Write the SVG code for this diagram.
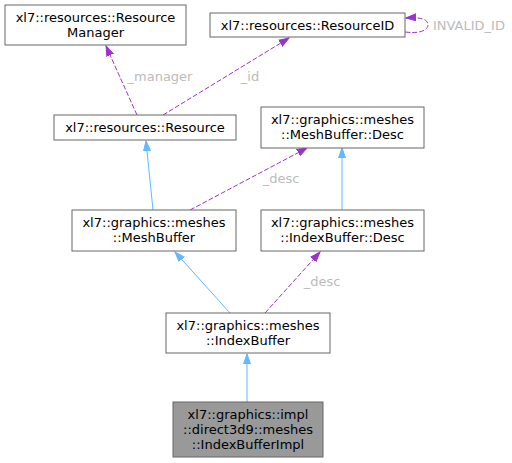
<svg xmlns="http://www.w3.org/2000/svg" width="512" height="463" viewBox="0 0 512 463">
<style>
.n rect{fill:#fff;stroke:#666;stroke-width:1}
.n.hl rect{fill:#999}
text{font-family:"DejaVu Sans","Liberation Sans",sans-serif;font-size:13px;text-anchor:middle;fill:#000}
.lbl{fill:#bbbbbb}
.b{fill:none;stroke:#63b8ff;stroke-width:1}
.p{fill:none;stroke:#9a32cd;stroke-width:1;stroke-dasharray:5,2}
</style>
<defs>
<marker id="ab" markerUnits="userSpaceOnUse" markerWidth="12" markerHeight="10" viewBox="0 -5 12 10" refX="10" refY="0" orient="auto"><path d="M0,-3.5L10,0L0,3.5z" fill="#63b8ff" stroke="#63b8ff"/></marker>
<marker id="ap" markerUnits="userSpaceOnUse" markerWidth="12" markerHeight="10" viewBox="0 -5 12 10" refX="10" refY="0" orient="auto"><path d="M0,-3.5L10,0L0,3.5z" fill="#9a32cd" stroke="#9a32cd"/></marker>
</defs>
<g id="edges">
<path class="p" d="M137,115L106,46" marker-end="url(#ap)"/>
<text class="lbl" x="160" y="81">_manager</text>
<path class="p" d="M163,115L289,38" marker-end="url(#ap)"/>
<text class="lbl" x="250" y="81">_id</text>
<path class="p" d="M405,32C420,34 428,30 428,25C428,19 420,17 406,18" marker-end="url(#ap)"/>
<text class="lbl" x="433" y="29.5" style="text-anchor:start">INVALID_ID</text>
<path class="b" d="M153,210L146,141" marker-end="url(#ab)"/>
<path class="p" d="M190,210L307,148" marker-end="url(#ap)"/>
<text class="lbl" x="281" y="182.5">_desc</text>
<path class="b" d="M342,210L342,148" marker-end="url(#ab)"/>
<path class="b" d="M230,313L175,252" marker-end="url(#ab)"/>
<path class="p" d="M265,313L320,252" marker-end="url(#ap)"/>
<text class="lbl" x="322" y="285.5">_desc</text>
<path class="b" d="M247,402L247,354" marker-end="url(#ab)"/>
</g>
<g id="resourcemanager" class="n"><rect x="5" y="5" width="181" height="40"/><text x="95.5" y="21.5">xl7::resources::Resource</text><text x="95.5" y="36.5">Manager</text></g>
<g id="resourceid" class="n"><rect x="210" y="13" width="195" height="24"/><text x="307.5" y="29.5">xl7::resources::ResourceID</text></g>
<g id="resource" class="n"><rect x="54" y="115" width="182" height="25"/><text x="145" y="131.5">xl7::resources::Resource</text></g>
<g id="meshbufferdesc" class="n"><rect x="261" y="107" width="163" height="41"/><text x="342.5" y="123.5">xl7::graphics::meshes</text><text x="342.5" y="138.5">::MeshBuffer::Desc</text></g>
<g id="meshbuffer" class="n"><rect x="72" y="210" width="164" height="41"/><text x="154" y="226.5">xl7::graphics::meshes</text><text x="154" y="241.5">::MeshBuffer</text></g>
<g id="indexbufferdesc" class="n"><rect x="261" y="210" width="163" height="41"/><text x="342.5" y="226.5">xl7::graphics::meshes</text><text x="342.5" y="241.5">::IndexBuffer::Desc</text></g>
<g id="indexbuffer" class="n"><rect x="166" y="313" width="164" height="40"/><text x="248" y="329.5">xl7::graphics::meshes</text><text x="248" y="344.5">::IndexBuffer</text></g>
<g id="indexbufferimpl" class="n hl"><rect x="173" y="402" width="150" height="55"/><text x="248" y="418.5">xl7::graphics::impl</text><text x="248" y="433.5">::direct3d9::meshes</text><text x="248" y="448.5">::IndexBufferImpl</text></g>
</svg>
